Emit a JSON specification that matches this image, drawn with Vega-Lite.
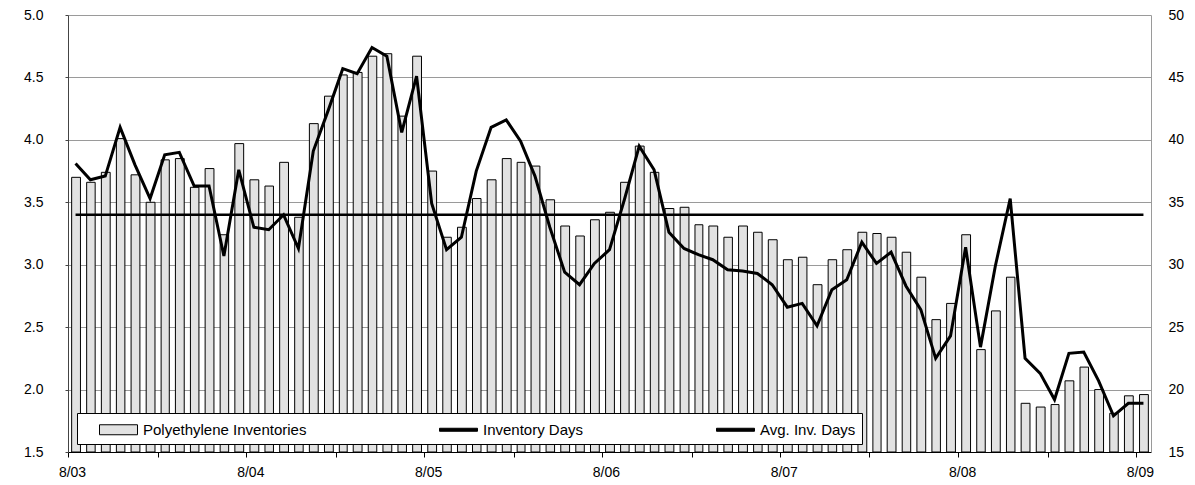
{
  "$schema": "https://vega.github.io/schema/vega-lite/v6.json",
  "width": 1083,
  "height": 437,
  "autosize": {"type": "none"},
  "padding": {"left": 68, "top": 15, "right": 44, "bottom": 33},
  "background": "white",
  "config": {
    "view": {"stroke": null},
    "font": "Liberation Sans",
    "axis": {"labelFont": "Liberation Sans", "labelColor": "black", "labelFontSize": 14, "title": null}
  },
  "data": {
    "values": [
      {"d": "2003-08-01", "pe": 3.70, "days": 38.1, "avg": 34},
      {"d": "2003-09-01", "pe": 3.66, "days": 36.8, "avg": 34},
      {"d": "2003-10-01", "pe": 3.74, "days": 37.1, "avg": 34},
      {"d": "2003-11-01", "pe": 4.01, "days": 41.0, "avg": 34},
      {"d": "2003-12-01", "pe": 3.72, "days": 38.0, "avg": 34},
      {"d": "2004-01-01", "pe": 3.50, "days": 35.3, "avg": 34},
      {"d": "2004-02-01", "pe": 3.84, "days": 38.8, "avg": 34},
      {"d": "2004-03-01", "pe": 3.85, "days": 39.0, "avg": 34},
      {"d": "2004-04-01", "pe": 3.62, "days": 36.3, "avg": 34},
      {"d": "2004-05-01", "pe": 3.77, "days": 36.3, "avg": 34},
      {"d": "2004-06-01", "pe": 3.24, "days": 30.7, "avg": 34},
      {"d": "2004-07-01", "pe": 3.97, "days": 37.6, "avg": 34},
      {"d": "2004-08-01", "pe": 3.68, "days": 33.0, "avg": 34},
      {"d": "2004-09-01", "pe": 3.63, "days": 32.8, "avg": 34},
      {"d": "2004-10-01", "pe": 3.82, "days": 34.0, "avg": 34},
      {"d": "2004-11-01", "pe": 3.38, "days": 31.3, "avg": 34},
      {"d": "2004-12-01", "pe": 4.13, "days": 39.1, "avg": 34},
      {"d": "2005-01-01", "pe": 4.35, "days": 42.4, "avg": 34},
      {"d": "2005-02-01", "pe": 4.52, "days": 45.7, "avg": 34},
      {"d": "2005-03-01", "pe": 4.54, "days": 45.3, "avg": 34},
      {"d": "2005-04-01", "pe": 4.67, "days": 47.4, "avg": 34},
      {"d": "2005-05-01", "pe": 4.69, "days": 46.7, "avg": 34},
      {"d": "2005-06-01", "pe": 4.19, "days": 40.6, "avg": 34},
      {"d": "2005-07-01", "pe": 4.67, "days": 45.1, "avg": 34},
      {"d": "2005-08-01", "pe": 3.75, "days": 34.9, "avg": 34},
      {"d": "2005-09-01", "pe": 3.22, "days": 31.2, "avg": 34},
      {"d": "2005-10-01", "pe": 3.30, "days": 32.2, "avg": 34},
      {"d": "2005-11-01", "pe": 3.53, "days": 37.5, "avg": 34},
      {"d": "2005-12-01", "pe": 3.68, "days": 41.0, "avg": 34},
      {"d": "2006-01-01", "pe": 3.85, "days": 41.6, "avg": 34},
      {"d": "2006-02-01", "pe": 3.82, "days": 39.9, "avg": 34},
      {"d": "2006-03-01", "pe": 3.79, "days": 37.1, "avg": 34},
      {"d": "2006-04-01", "pe": 3.52, "days": 33.0, "avg": 34},
      {"d": "2006-05-01", "pe": 3.31, "days": 29.4, "avg": 34},
      {"d": "2006-06-01", "pe": 3.23, "days": 28.4, "avg": 34},
      {"d": "2006-07-01", "pe": 3.36, "days": 30.1, "avg": 34},
      {"d": "2006-08-01", "pe": 3.42, "days": 31.2, "avg": 34},
      {"d": "2006-09-01", "pe": 3.66, "days": 35.2, "avg": 34},
      {"d": "2006-10-01", "pe": 3.95, "days": 39.5, "avg": 34},
      {"d": "2006-11-01", "pe": 3.74, "days": 37.6, "avg": 34},
      {"d": "2006-12-01", "pe": 3.45, "days": 32.6, "avg": 34},
      {"d": "2007-01-01", "pe": 3.46, "days": 31.3, "avg": 34},
      {"d": "2007-02-01", "pe": 3.32, "days": 30.8, "avg": 34},
      {"d": "2007-03-01", "pe": 3.31, "days": 30.4, "avg": 34},
      {"d": "2007-04-01", "pe": 3.22, "days": 29.6, "avg": 34},
      {"d": "2007-05-01", "pe": 3.31, "days": 29.5, "avg": 34},
      {"d": "2007-06-01", "pe": 3.26, "days": 29.3, "avg": 34},
      {"d": "2007-07-01", "pe": 3.20, "days": 28.4, "avg": 34},
      {"d": "2007-08-01", "pe": 3.04, "days": 26.6, "avg": 34},
      {"d": "2007-09-01", "pe": 3.06, "days": 26.9, "avg": 34},
      {"d": "2007-10-01", "pe": 2.84, "days": 25.1, "avg": 34},
      {"d": "2007-11-01", "pe": 3.04, "days": 28.0, "avg": 34},
      {"d": "2007-12-01", "pe": 3.12, "days": 28.8, "avg": 34},
      {"d": "2008-01-01", "pe": 3.26, "days": 31.8, "avg": 34},
      {"d": "2008-02-01", "pe": 3.25, "days": 30.1, "avg": 34},
      {"d": "2008-03-01", "pe": 3.22, "days": 31.0, "avg": 34},
      {"d": "2008-04-01", "pe": 3.10, "days": 28.3, "avg": 34},
      {"d": "2008-05-01", "pe": 2.90, "days": 26.4, "avg": 34},
      {"d": "2008-06-01", "pe": 2.56, "days": 22.5, "avg": 34},
      {"d": "2008-07-01", "pe": 2.69, "days": 24.3, "avg": 34},
      {"d": "2008-08-01", "pe": 3.24, "days": 31.4, "avg": 34},
      {"d": "2008-09-01", "pe": 2.32, "days": 23.4, "avg": 34},
      {"d": "2008-10-01", "pe": 2.63, "days": 29.9, "avg": 34},
      {"d": "2008-11-01", "pe": 2.90, "days": 35.3, "avg": 34},
      {"d": "2008-12-01", "pe": 1.89, "days": 22.5, "avg": 34},
      {"d": "2009-01-01", "pe": 1.86, "days": 21.3, "avg": 34},
      {"d": "2009-02-01", "pe": 1.88, "days": 19.2, "avg": 34},
      {"d": "2009-03-01", "pe": 2.07, "days": 22.9, "avg": 34},
      {"d": "2009-04-01", "pe": 2.18, "days": 23.0, "avg": 34},
      {"d": "2009-05-01", "pe": 2.00, "days": 20.7, "avg": 34},
      {"d": "2009-06-01", "pe": 1.81, "days": 17.9, "avg": 34},
      {"d": "2009-07-01", "pe": 1.95, "days": 18.9, "avg": 34},
      {"d": "2009-08-01", "pe": 1.96, "days": 18.9, "avg": 34}
    ]
  },
  "layer": [
    {
      "mark": {"type": "bar", "stroke": "black", "strokeWidth": 1, "width": {"band": 0.65}},
      "encoding": {
        "x": {
          "field": "d", "type": "temporal", "timeUnit": "utcyearmonth",
          "scale": {"domain": [{"year": 2003, "month": 8, "date": 1, "utc": true}, {"year": 2009, "month": 9, "date": 1, "utc": true}], "nice": false},
          "axis": {
            "values": [
              {"year": 2003, "month": 8, "date": 1, "utc": true},
              {"year": 2004, "month": 2, "date": 1, "utc": true},
              {"year": 2004, "month": 8, "date": 1, "utc": true},
              {"year": 2005, "month": 2, "date": 1, "utc": true},
              {"year": 2005, "month": 8, "date": 1, "utc": true},
              {"year": 2006, "month": 2, "date": 1, "utc": true},
              {"year": 2006, "month": 8, "date": 1, "utc": true},
              {"year": 2007, "month": 2, "date": 1, "utc": true},
              {"year": 2007, "month": 8, "date": 1, "utc": true},
              {"year": 2008, "month": 2, "date": 1, "utc": true},
              {"year": 2008, "month": 8, "date": 1, "utc": true},
              {"year": 2009, "month": 2, "date": 1, "utc": true},
              {"year": 2009, "month": 8, "date": 1, "utc": true}
            ],
            "labelExpr": "utcmonth(datum.value) == 7 ? utcFormat(datum.value, '%-m/%y') : ''",
            "grid": false, "tickSize": 5, "tickColor": "black", "domainColor": "black",
            "labelPadding": 8, "labelAngle": 0, "labelFlush": false, "labelOverlap": false, "labelOffset": 4
          }
        },
        "y": {
          "field": "pe", "type": "quantitative",
          "scale": {"domain": [1.5, 5], "zero": false, "nice": false},
          "axis": {
            "values": [1.5, 2, 2.5, 3, 3.5, 4, 4.5, 5], "format": ".1f",
            "grid": true, "gridColor": "#9a9a9a", "domainColor": "#444444",
            "tickSize": 3, "tickColor": "#444444", "labelPadding": 22
          }
        },
        "y2": {"datum": 1.5},
        "fill": {
          "datum": "Polyethylene Inventories", "type": "nominal",
          "scale": {"domain": ["Polyethylene Inventories", "Inventory Days", "Avg. Inv. Days"], "range": ["#e2e2e2", "black", "black"]},
          "legend": {
            "orient": "none", "legendX": 9, "legendY": 398, "direction": "horizontal", "columns": 3,
            "title": null, "fillColor": "white", "strokeColor": "black", "padding": 6,
            "labelFontSize": 15, "labelColor": "black", "labelFont": "Liberation Sans", "labelLimit": 500,
            "columnPadding": 116, "symbolSize": 400, "symbolStrokeWidth": 1, "symbolOffset": 25, "labelOffset": 14,
            "symbolStrokeColor": "black", "symbolOpacity": 1,
            "symbolType": {"expr": "datum.value === 'Polyethylene Inventories' ? 'M-1.9,-0.5H1.9V0.5H-1.9Z' : 'M-1.9,-0.15H1.9V0.15H-1.9Z'"}
          }
        }
      }
    },
    {
      "layer": [
        {
          "mark": {"type": "line", "strokeWidth": 3},
          "encoding": {
            "x": {"field": "d", "type": "temporal", "timeUnit": "utcyearmonth", "bandPosition": 0.5},
            "y": {
              "field": "days", "type": "quantitative",
              "scale": {"domain": [15, 50], "zero": false, "nice": false},
              "axis": {
                "orient": "right", "values": [15, 20, 25, 30, 35, 40, 45, 50], "format": "d",
                "grid": false, "domainColor": "#9a9a9a", "ticks": false, "labelPadding": 17
              }
            },
            "stroke": {
              "datum": "Inventory Days", "type": "nominal",
              "scale": {"domain": ["Polyethylene Inventories", "Inventory Days", "Avg. Inv. Days"], "range": ["black", "black", "black"]},
              "legend": {
                "orient": "none", "legendX": 9, "legendY": 398, "direction": "horizontal", "columns": 3,
                "title": null, "fillColor": "white", "strokeColor": "black", "padding": 6,
                "labelFontSize": 15, "labelColor": "black", "labelFont": "Liberation Sans", "labelLimit": 500,
                "columnPadding": 116, "symbolSize": 400, "symbolStrokeWidth": 1, "symbolOffset": 25, "labelOffset": 14,
                "symbolStrokeColor": "black", "symbolOpacity": 1,
                "symbolType": {"expr": "datum.value === 'Polyethylene Inventories' ? 'M-1.9,-0.5H1.9V0.5H-1.9Z' : 'M-1.9,-0.15H1.9V0.15H-1.9Z'"}
              }
            }
          }
        },
        {
          "mark": {"type": "line", "strokeWidth": 2.5},
          "encoding": {
            "x": {"field": "d", "type": "temporal", "timeUnit": "utcyearmonth", "bandPosition": 0.5},
            "y": {"field": "avg", "type": "quantitative"},
            "stroke": {"datum": "Avg. Inv. Days", "type": "nominal"}
          }
        }
      ]
    }
  ],
  "resolve": {"scale": {"y": "independent"}}
}
